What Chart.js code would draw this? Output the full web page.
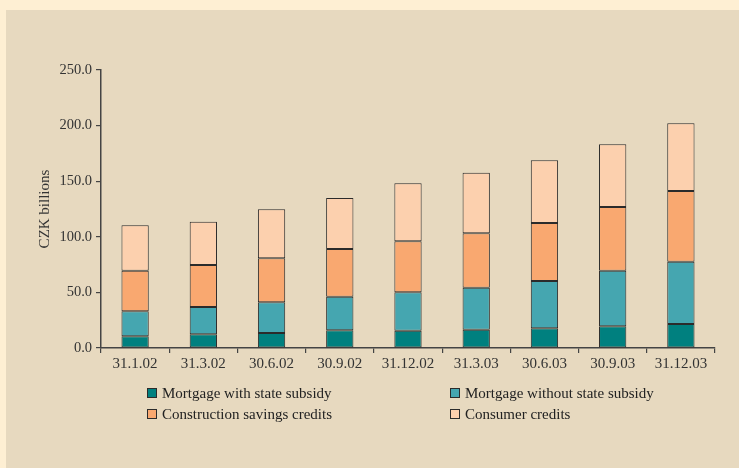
<!DOCTYPE html>
<html>
<head>
<meta charset="utf-8">
<script src="https://cdn.jsdelivr.net/npm/chart.js@4/dist/chart.umd.min.js"></script>
<style>
  html, body { margin: 0; padding: 0; background: #FEEFD3; }
  #panel { position: absolute; left: 6px; top: 10px; width: 733px; height: 458px; background: #E7D9BF; }
  #wrap { position: absolute; left: 0; top: 0; width: 733px; height: 458px; }
</style>
</head>
<body>
<div id="panel"><div id="wrap"><canvas id="myChart"></canvas></div></div>
<script>
var periods = ['31.1.02', '31.3.02', '30.6.02', '30.9.02', '31.12.02', '31.3.03', '30.6.03', '30.9.03', '31.12.03']
var withSubsidy = [10.5, 12.3, 13.5, 15.9, 15.6, 16.5, 17.7, 19.5, 21.6]
var withoutSubsidy = [22.5, 24.6, 27.6, 30.2, 34.5, 37.7, 42.6, 50.0, 56.0]
var savingsCredits = [36.5, 37.7, 39.5, 42.9, 45.9, 48.9, 52.1, 57.3, 63.6]
var consumerCredits = [40.8, 39.0, 44.1, 45.9, 52.1, 54.6, 56.4, 56.4, 60.9]
var yTitle = 'CZK billions'

const serif = '"Liberation Serif", "DejaVu Serif", serif'
const ink = '#2b2b2b'

function makeSet(label, values, color) {
  return {
    label,
    data: values,
    backgroundColor: color,
    borderColor: ink,
    borderWidth: 1,
    borderSkipped: false,
    barPercentage: 0.4,
    categoryPercentage: 1.0,
  }
}

const datasets = [
  makeSet('Mortgage with state subsidy', withSubsidy, '#00807F'),
  makeSet('Mortgage without state subsidy', withoutSubsidy, '#45A6B0'),
  makeSet('Construction savings credits', savingsCredits, '#F9A870'),
  makeSet('Consumer credits', consumerCredits, '#FCD0AE'),
]

// two-column legend under the plot + rotated y title
const extrasPlugin = {
  id: 'extras',
  afterDraw(chart) {
    const ctx = chart.ctx
    const cols = [141, 444]
    const rows = [383, 404]
    ctx.save()
    ctx.font = '15px ' + serif
    ctx.textBaseline = 'middle'
    chart.data.datasets.forEach((ds, i) => {
      const x = cols[i % 2]
      const y = rows[Math.floor(i / 2)]
      ctx.fillStyle = ds.backgroundColor
      ctx.fillRect(x, y - 5, 10, 10)
      ctx.strokeStyle = ink
      ctx.lineWidth = 1
      ctx.strokeRect(x + 0.5, y - 4.5, 9, 9)
      ctx.fillStyle = '#222'
      ctx.fillText(ds.label, x + 15, y + 1)
    })

    ctx.translate(39, (chart.chartArea.top + chart.chartArea.bottom) / 2)
    ctx.rotate(-Math.PI / 2)
    ctx.textAlign = 'center'
    ctx.font = '15px ' + serif
    ctx.fillStyle = '#333'
    ctx.fillText(yTitle, 0, 0)
    ctx.restore()
  },
}

const ctx = document.getElementById('myChart').getContext('2d')
const myChart = new Chart(ctx, {
  type: 'bar',
  data: { labels: periods, datasets },
  plugins: [extrasPlugin],
  options: {
    responsive: true,
    maintainAspectRatio: false,
    animation: false,
    layout: { padding: { left: 0, top: 60, right: 24, bottom: 90 } },
    plugins: { legend: { display: false }, tooltip: { enabled: false } },
    scales: {
      x: {
        stacked: true,
        afterFit: s => { s.height = 30 },
        border: { display: true, color: '#444', width: 1.5 },
        grid: { offset: true, drawOnChartArea: false, tickLength: 5, color: '#444', lineWidth: 1.2 },
        ticks: { color: '#333', padding: 2, font: { family: serif, size: 15 } },
      },
      y: {
        stacked: true,
        min: 0,
        max: 250,
        afterFit: s => { s.width = 95 },
        border: { display: true, color: '#444', width: 1.5 },
        grid: { drawOnChartArea: false, tickLength: 5, color: '#444', lineWidth: 1.2 },
        ticks: {
          stepSize: 50,
          color: '#333',
          padding: 4,
          font: { family: serif, size: 14.5 },
          callback: v => v.toFixed(1),
        },
      },
    },
  },
})
</script>
</body>
</html>
